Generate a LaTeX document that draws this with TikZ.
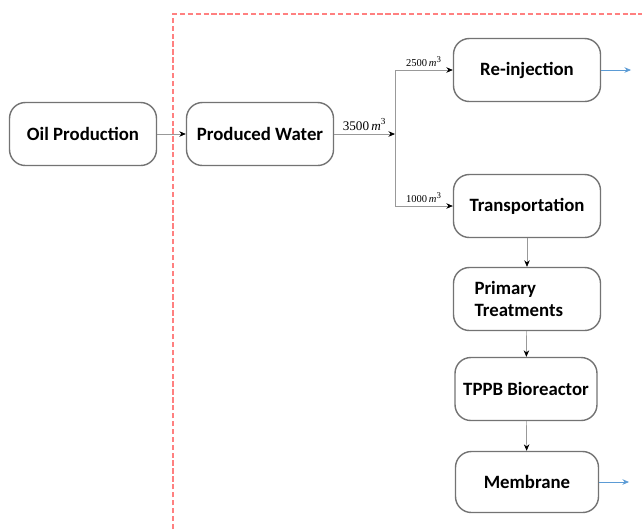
\documentclass[tikz,border=0pt]{standalone}
\usepackage{fontspec}
\setsansfont{Carlito}
\setmainfont{Liberation Serif}
\usetikzlibrary{arrows.meta,positioning}
\definecolor{outblue}{RGB}{91,155,213}
\tikzset{
  stage/.style={rectangle,rounded corners=9pt,draw=black!55,thick,
    minimum width=2.94cm,minimum height=1.26cm,inner sep=2pt,
    font=\sffamily\bfseries\fontsize{10.7}{12.5}\selectfont},
  flow/.style={draw=black!40,-{Stealth[length=1.3mm,width=1.1mm,black]}},
  flowout/.style={draw=outblue,-{Stealth[length=1.3mm,width=1.1mm]}},
  vol/.style={font=\fontsize{6}{7}\selectfont,inner sep=1.5pt},
  bigvol/.style={font=\fontsize{7.5}{8}\selectfont,inner sep=2pt},
  bound/.style={draw=red!50,dash pattern=on 3pt off 1.5pt,thick},
}
\newcommand{\cubic}{\,\textit{m}\textsuperscript{3}}
\begin{document}
\begin{tikzpicture}[x=0.02cm,y=-0.02cm]
    \useasboundingbox (0,0) rectangle (642,529);
    % system boundary
    \draw[bound] (173,529) -- (173,14) -- (642,14);
    % stages
    \node[stage] (oil) at (83,134) {Oil Production};
    \node[stage] (water) at (260,134) {Produced Water};
    \node[stage] (reinj) at (527,70) {Re-injection};
    \node[stage] (transp) at (527,206) {Transportation};
    \node[stage,text width=2.1cm,inner xsep=0.42cm,align=left] (primary) at (527,299) {Primary\\ Treatments};
    \node[stage,minimum width=2.84cm] (tppb) at (526,389) {TPPB Bioreactor};
    \node[stage,minimum width=2.86cm,minimum height=1.22cm] (membrane) at (527,482) {Membrane};
    \coordinate (split) at (395,134);
    \coordinate (reinjout) at (631,70);
    \coordinate (membout) at (629,482);
    % flows
    \draw[flow] (oil) -- (water);
    \draw[flow] (water) -- node[bigvol,above] {3500\cubic} (split);
    \draw[flow] (split) |- node[vol,pos=0.75,above] {2500\cubic} (reinj);
    \draw[flow] (split) |- node[vol,pos=0.75,above] {1000\cubic} (transp);
    \draw[flow] (transp) -- (primary);
    \draw[flow] (primary) -- (tppb);
    \draw[flow] (tppb) -- (membrane);
    \draw[flowout] (reinj) -- (reinjout);
    \draw[flowout] (membrane) -- (membout);
\end{tikzpicture}
\end{document}
